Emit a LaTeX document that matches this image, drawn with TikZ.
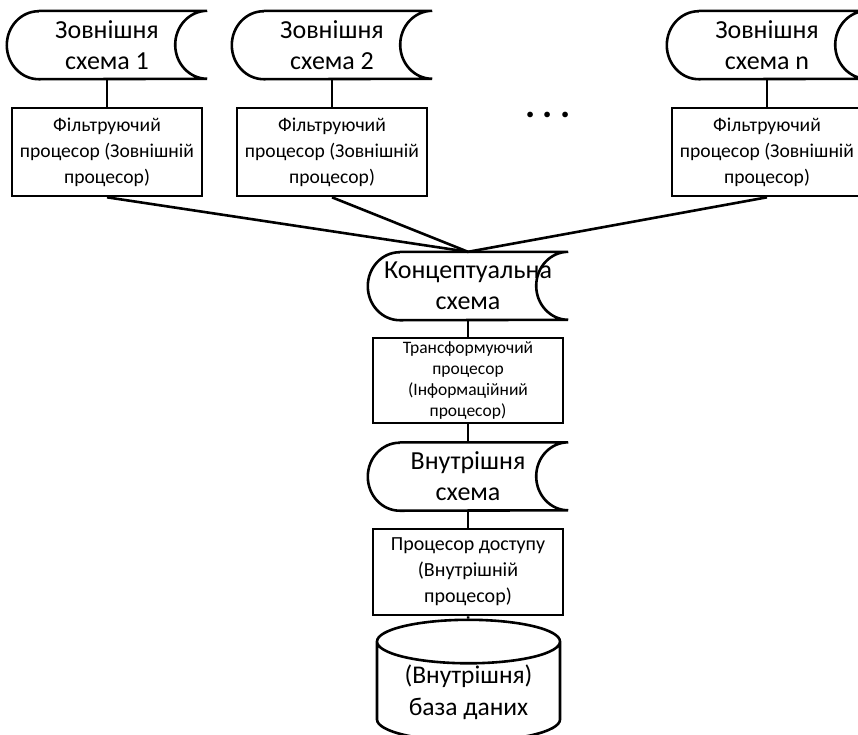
\documentclass[tikz,border=0pt]{standalone}
\usepackage{fontspec}
\setmainfont{Carlito}
\usetikzlibrary{shapes.geometric}

\tikzset{
  schema/.style={minimum width=200pt, minimum height=68pt, inner sep=0pt,
    align=center, font=\fontsize{26}{31}\selectfont},
  proc/.style={draw, line width=2.6pt, minimum width=190pt, minimum height=88pt,
    inner sep=0pt, align=center, font=\fontsize{19.6}{26}\selectfont},
  base/.style={draw, line width=2.6pt, cylinder, shape border rotate=90, aspect=0.34,
    minimum width=183pt, minimum height=96pt, inner sep=0pt, align=center,
    font=\fontsize{25.5}{32}\selectfont},
  link/.style={line width=2.6pt}
}

% outline of a stored-data block round a node
\newcommand{\storedshape}[1]{%
  \draw[link] ([xshift=32pt]#1.north west) -- (#1.north east)
    arc[start angle=90, end angle=270, x radius=32pt, y radius=34pt]
    -- ([xshift=32pt]#1.south west)
    arc[start angle=270, end angle=90, x radius=32pt, y radius=34pt];}

\begin{document}
\begin{tikzpicture}[x=1pt, y=-1pt]
    \useasboundingbox (0,0) rectangle (858,734);
    \clip (0,0) rectangle (858,734);

    % external level
    \node[schema] (ext1) at (107,45) {Зовнішня\\схема 1};
    \node[schema] (ext2) at (332,45) {Зовнішня\\схема 2};
    \node[schema] (extn) at (767,45) {Зовнішня\\схема n};

    \node[proc] (filt1) at (107,152) {Фільтруючий\\процесор (Зовнішній\\процесор)};
    \node[proc] (filt2) at (332,152) {Фільтруючий\\процесор (Зовнішній\\процесор)};
    \node[proc] (filtn) at (767,152) {Фільтруючий\\процесор (Зовнішній\\процесор)};

    \node[font=\fontsize{38}{38}\selectfont\bfseries] (dots) at (548,115) {.\kern7pt.\kern7pt.};

    % conceptual and internal levels
    \node[schema] (concept) at (468,286) {Концептуальна\\схема};
    \node[proc, minimum height=85pt, font=\fontsize{17.5}{21}\selectfont] (transf) at (468,380.5)
        {Трансформуючий\\процесор\\(Інформаційний\\процесор)};
    \node[schema] (intern) at (468,476.5) {Внутрішня\\схема};
    \node[proc, minimum height=86pt, font=\fontsize{20}{26}\selectfont] (access) at (468,572)
        {Процесор доступу\\(Внутрішній\\процесор)};
    \node[base] (db) at (468.5,692) {(Внутрішня)\\база даних};

    \foreach \s in {ext1,ext2,extn,concept,intern}
        \storedshape{\s};

    \draw[link] (ext1) -- (filt1);
    \draw[link] (ext2) -- (filt2);
    \draw[link] (extn) -- (filtn);

    \draw[link] (filt1.south) -- (concept.north);
    \draw[link] (filt2.south) -- (concept.north);
    \draw[link] (filtn.south) -- (concept.north);

    \draw[link] (concept) -- (transf);
    \draw[link] (transf) -- (intern);
    \draw[link] (intern) -- (access);
    \draw[link] (access) -- (db);
\end{tikzpicture}
\end{document}
